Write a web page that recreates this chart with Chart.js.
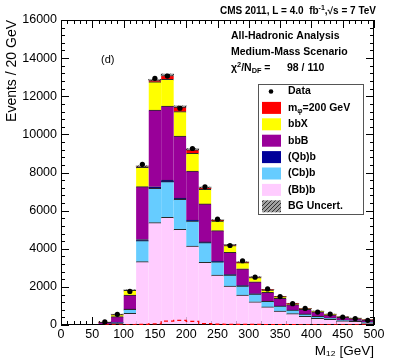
<!DOCTYPE html>
<html>
<head>
<meta charset="utf-8">
<script src="https://cdn.jsdelivr.net/npm/chart.js@4"></script>
<style>
  html, body { margin: 0; padding: 0; background: #fff; }
</style>
</head>
<body>
<canvas id="c" width="399" height="362"></canvas>
<script>
// bin centres (20 GeV bins, 60-500 GeV)
var binCenters = [70, 90, 110, 130, 150, 170, 190, 210, 230, 250, 270, 290, 310, 330, 350, 370, 390, 410, 430, 450, 470, 490];

// observed events
var dataEvents = [160, 560, 1760, 8430, 12940, 13060, 11370, 9260, 7250, 5550, 4170, 3370, 2510, 1890, 1490, 1120, 870, 680, 575, 410, 340, 245];

// background components, bottom of the stack first
var bgBBb = [10, 100, 612, 3322, 5370, 5650, 5020, 4145, 3290, 2620, 2046, 1574, 1220, 950, 735, 593, 456, 350, 300, 225, 194, 120];
var bgCBb = [0, 20, 210, 1102, 1800, 1870, 1570, 1300, 1030, 700, 574, 472, 406, 290, 252, 186, 115, 100, 62, 34, 28, 34];
var bgQBb = [0, 0, 15, 60, 80, 80, 70, 60, 40, 30, 25, 20, 15, 12, 10, 8, 6, 6, 5, 3, 3, 3];
var bgBBB = [130, 317, 737, 2773, 4030, 3890, 3256, 2570, 1990, 1600, 1165, 884, 629, 463, 403, 278, 247, 234, 170, 140, 110, 95];
var bgBBX = [5, 110, 246, 1009, 1480, 1400, 1274, 930, 770, 500, 360, 320, 220, 120, 75, 50, 30, 25, 20, 15, 12, 10];
var bgUncert = [5, 15, 15, 60, 70, 80, 70, 60, 50, 40, 30, 25, 20, 15, 15, 13, 12, 11, 10, 10, 10, 10];

// signal m_phi = 200 GeV
var signal200 = [0, 5, 10, 30, 60, 200, 240, 190, 70, 40, 30, 25, 25, 20, 15, 12, 10, 8, 8, 8, 8, 8];

var xMinorStep = 10, xMajorStep = 50;
var yMinorStep = 400, yMajorStep = 2000;

var FONT = '"Liberation Sans", Arial, Helvetica, sans-serif';

function pts(arr) {
    return binCenters.map(function (x, i) { return { x: x, y: arr[i] }; });
}

// grå skravering til usikkerheden
function hatchPattern(ctx) {
    var c = document.createElement('canvas');
    c.width = 4; c.height = 4;
    var g = c.getContext('2d');
    g.fillStyle = '#a0a0a0';
    g.fillRect(0, 0, 4, 4);
    g.strokeStyle = '#303030';
    g.lineWidth = 1;
    g.beginPath();
    g.moveTo(0, 4); g.lineTo(4, 0);
    g.moveTo(-1, 1); g.lineTo(1, -1);
    g.moveTo(3, 5); g.lineTo(5, 3);
    g.stroke();
    return ctx.createPattern(c, 'repeat');
}

// text med _{} og ^{}
function parseRich(s) {
    var out = [], re = /([_^])\{([^}]*)\}/g, last = 0, m;
    while ((m = re.exec(s))) {
        if (m.index > last) out.push([s.slice(last, m.index), 0]);
        out.push([m[2], m[1] === '_' ? 1 : -1]);
        last = re.lastIndex;
    }
    if (last < s.length) out.push([s.slice(last), 0]);
    return out;
}
function drawRich(ctx, s, x, y, size, bold, align) {
    var parts = parseRich(s);
    var f = function (sz) { return (bold ? 'bold ' : '') + sz + 'px ' + FONT; };
    var w = 0;
    parts.forEach(function (p) { ctx.font = f(p[1] ? size * 0.7 : size); w += ctx.measureText(p[0]).width; });
    var cx = align === 'right' ? x - w : x;
    ctx.textAlign = 'left';
    ctx.textBaseline = 'middle';
    parts.forEach(function (p) {
        ctx.font = f(p[1] ? size * 0.7 : size);
        ctx.fillText(p[0], cx, y + p[1] * size * 0.32);
        cx += ctx.measureText(p[0]).width;
    });
}

var ctx = document.getElementById('c').getContext('2d');
var hatch = hatchPattern(ctx);

function barSet(label, arr, color) {
    return {
        type: 'bar',
        label: label,
        data: pts(arr),
        stack: 'bg',
        backgroundColor: color,
        borderColor: '#2a2a2a',
        borderWidth: { top: 1, left: 0, right: 0, bottom: 0 },
        borderSkipped: false,
        barPercentage: 1,
        categoryPercentage: 1
    };
}

var datasets = [
    {
        type: 'line',
        label: 'Data',
        data: pts(dataEvents),
        stack: 'obs',
        showLine: false,
        pointRadius: 2.6,
        pointBackgroundColor: '#000',
        pointBorderWidth: 0,
        order: -2
    },
    {
        type: 'line',
        label: 'signal shape',
        data: pts(signal200),
        stack: 'sig',
        stepped: 'middle',
        borderColor: '#ff0000',
        borderWidth: 1.3,
        borderDash: [4, 3],
        pointRadius: 0,
        fill: false,
        order: -1
    },
    barSet('(Bb)b', bgBBb, '#ffccff'),
    barSet('(Cb)b', bgCBb, '#66ccff'),
    barSet('(Qb)b', bgQBb, '#000099'),
    barSet('bbB', bgBBB, '#990099'),
    barSet('bbX', bgBBX, '#ffff00'),
    barSet('m_{φ}=200 GeV', signal200, '#ff0000'),
    barSet('BG Uncert.', bgUncert, hatch)
];
datasets[8].borderWidth = 0;

var legendOrder = ['Data', 'm_{φ}=200 GeV', 'bbX', 'bbB', '(Qb)b', '(Cb)b', '(Bb)b', 'BG Uncert.'];

var rootStyle = {
    id: 'rootStyle',
    beforeDatasetsDraw: function (chart) {
        var c = chart.ctx, a = chart.chartArea, x = chart.scales.x, y = chart.scales.y;
        c.save();
        c.strokeStyle = '#000';
        c.lineWidth = 1;
        c.beginPath();
        var v, p, len;
        for (v = x.min; v <= x.max; v += xMinorStep) {
            p = Math.round(x.getPixelForValue(v)) + 0.5;
            len = v % xMajorStep === 0 ? 8 : 4;
            c.moveTo(p, a.bottom); c.lineTo(p, a.bottom - len);
            c.moveTo(p, a.top); c.lineTo(p, a.top + len);
        }
        for (v = y.min; v <= y.max; v += yMinorStep) {
            p = Math.round(y.getPixelForValue(v)) + 0.5;
            len = v % yMajorStep === 0 ? 8 : 4;
            c.moveTo(a.left, p); c.lineTo(a.left + len, p);
            c.moveTo(a.right, p); c.lineTo(a.right - len, p);
        }
        c.stroke();
        c.restore();
    },
    // rammen tegnes efter søjlerne, men før den stiplede signal-linje og data
    beforeDatasetDraw: function (chart, args) {
        if (args.index !== 1) return;
        var c = chart.ctx, a = chart.chartArea;
        c.save();
        c.strokeStyle = '#000';
        c.lineWidth = 1;
        c.strokeRect(Math.round(a.left) + 0.5, Math.round(a.top) + 0.5, Math.round(a.right - a.left) - 1, Math.round(a.bottom - a.top) - 1);
        c.restore();
    },
    afterDraw: function (chart) {
        var c = chart.ctx;
        c.save();
        c.fillStyle = '#000';
        drawRich(c, 'CMS 2011, L = 4.0  fb^{-1},√s = 7 TeV', 376, 11, 10, true, 'right');
        drawRich(c, 'All-Hadronic Analysis', 231, 36, 10.5, true);
        drawRich(c, 'Medium-Mass Scenario', 231, 52, 10.5, true);
        drawRich(c, 'χ^{2}/N_{DF} =', 231, 68, 10.5, true);
        drawRich(c, '98 / 110', 287, 68, 10.5, true);
        drawRich(c, '(d)', 101, 60, 11, false);

        // legend box
        var bx = 258, by = 84, bw = 105, bh = 130;
        c.fillStyle = '#fff';
        c.fillRect(bx, by, bw, bh);
        c.strokeStyle = '#555';
        c.lineWidth = 1;
        c.strokeRect(bx + 0.5, by + 0.5, bw, bh);
        legendOrder.forEach(function (lab, i) {
            var ds = chart.data.datasets.find(function (d) { return d.label === lab; });
            var cy = 91.5 + i * 16.4;
            if (ds.type === 'line') {
                c.fillStyle = '#000';
                c.beginPath();
                c.arc(271, cy, 2.3, 0, Math.PI * 2);
                c.fill();
            } else {
                c.fillStyle = ds.backgroundColor;
                c.fillRect(262, cy - 6, 19, 12);
            }
            c.fillStyle = '#000';
            drawRich(c, lab, 288, cy, 10.5, true);
        });
        c.restore();
    }
};

var chart = new Chart(ctx, {
    type: 'bar',
    data: { datasets: datasets },
    options: {
        responsive: false,
        animation: false,
        devicePixelRatio: 1,
        layout: { padding: { left: 0, top: 20, right: 25, bottom: 0 } },
        plugins: { legend: { display: false }, tooltip: { enabled: false } },
        scales: {
            x: {
                type: 'linear',
                min: 0,
                max: 500,
                offset: false,
                grid: { display: false, offset: false, drawTicks: false, tickLength: 0 },
                border: { display: false },
                ticks: {
                    stepSize: xMajorStep,
                    color: '#000',
                    padding: 2,
                    maxRotation: 0,
                    autoSkip: false,
                    font: { family: FONT, size: 12.5 },
                    callback: function (v) { return String(v); }
                },
                title: {
                    display: true,
                    text: 'M₁₂ [GeV]',
                    align: 'end',
                    color: '#000',
                    padding: { top: 0, bottom: 3 },
                    font: { family: FONT, size: 13.5 }
                },
                afterFit: function (s) { s.height = 37; }
            },
            y: {
                stacked: true,
                min: 0,
                max: 16000,
                grid: { display: false, drawTicks: false, tickLength: 0 },
                border: { display: false },
                ticks: {
                    stepSize: yMajorStep,
                    color: '#000',
                    padding: 4,
                    font: { family: FONT, size: 12.5 },
                    callback: function (v) { return String(v); }
                },
                title: {
                    display: true,
                    text: 'Events / 20 GeV',
                    align: 'end',
                    color: '#000',
                    padding: { top: 4, bottom: 0 },
                    font: { family: FONT, size: 14 }
                },
                afterFit: function (s) { s.width = 61; }
            }
        }
    },
    plugins: [rootStyle]
});
</script>
</body>
</html>
